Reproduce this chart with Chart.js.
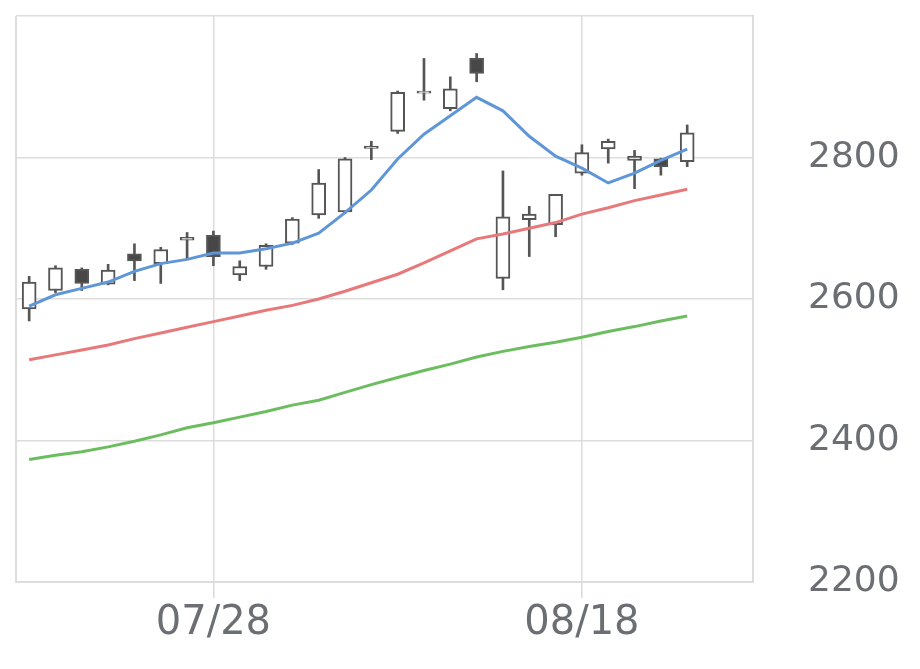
<!DOCTYPE html>
<html>
<head>
<meta charset="utf-8">
<script src="https://cdn.jsdelivr.net/npm/chart.js@4/dist/chart.umd.min.js"></script>
<style>
  html, body { margin: 0; padding: 0; background: #fff; }
  #wrap { width: 920px; height: 669px; }
</style>
</head>
<body>
<div id="wrap"><canvas id="chart"></canvas></div>
<script>
// trading days (last two slots are empty)
const dates = ["07/19", "07/20", "07/21", "07/24", "07/25", "07/26", "07/27", "07/28",
  "07/31", "08/01", "08/02", "08/03", "08/04", "08/07", "08/08", "08/09", "08/10",
  "08/14", "08/15", "08/16", "08/17", "08/18", "08/21", "08/22", "08/23", "08/24",
  "08/25", "08/28"];
const shownDates = ["07/28", "08/18"];

const openVals  = [2586, 2612, 2642, 2621, 2664, 2650, 2683, 2690, 2634, 2646, 2679, 2719, 2723,
  2813, 2837, 2891, 2869, 2940, 2629, 2712, 2705, 2778, 2812, 2796, 2798, 2794];
const highVals  = [2632, 2647, 2644, 2649, 2678, 2673, 2694, 2696, 2654, 2678, 2715, 2783, 2800,
  2823, 2894, 2940, 2914, 2947, 2781, 2731, 2748, 2818, 2826, 2810, 2799, 2846];
const lowVals   = [2569, 2609, 2612, 2620, 2626, 2622, 2657, 2647, 2626, 2642, 2677, 2714, 2721,
  2797, 2834, 2881, 2866, 2907, 2613, 2660, 2688, 2775, 2792, 2756, 2775, 2787];
const closeVals = [2624, 2644, 2622, 2641, 2654, 2670, 2687, 2660, 2646, 2676, 2713, 2764, 2798,
  2816, 2892, 2894, 2897, 2919, 2716, 2720, 2748, 2807, 2823, 2802, 2787, 2835];

// moving averages
const ma5  = [2590, 2606, 2615, 2624, 2639, 2650, 2656, 2665, 2665, 2671, 2679, 2693, 2722,
  2754, 2798, 2833, 2859, 2885, 2866, 2830, 2802, 2785, 2764, 2778, 2796, 2812];
const ma25 = [2514, 2521, 2528, 2535, 2544, 2552, 2560, 2568, 2576, 2584, 2591, 2600, 2611,
  2623, 2635, 2651, 2668, 2685, 2692, 2700, 2708, 2720, 2729, 2739, 2747, 2755];
const ma75 = [2373, 2379, 2384, 2391, 2399, 2408, 2418, 2425, 2433, 2441, 2450, 2457, 2468,
  2479, 2489, 2499, 2508, 2518, 2526, 2533, 2539, 2546, 2554, 2561, 2569, 2576];

const yTicks = [2200, 2400, 2600, 2800, 3000];

const textColor = "#6b6e72";
const gridColor = "#dddddd";
const candleLine = "#555555";
const candleFill = "#474747";

const bodies = openVals.map((o, i) => [o, closeVals[i]]);
const wicks = lowVals.map((l, i) => [l, highVals[i]]);

// left edge of the plot frame
const framePlugin = {
  id: "frame",
  afterDraw(chart) {
    const { ctx, chartArea } = chart;
    ctx.save();
    ctx.strokeStyle = gridColor;
    ctx.lineWidth = 2;
    ctx.beginPath();
    ctx.moveTo(chartArea.left, chartArea.top);
    ctx.lineTo(chartArea.left, chartArea.bottom);
    ctx.stroke();
    ctx.restore();
  }
};

new Chart(document.getElementById("chart"), {
  type: "bar",
  data: {
    labels: dates,
    datasets: [
      {
        type: "line", data: ma5, borderColor: "#5f96d8", borderWidth: 3,
        pointRadius: 0, tension: 0, order: 0
      },
      {
        type: "line", data: ma25, borderColor: "#e8797b", borderWidth: 3,
        pointRadius: 0, tension: 0, order: 0
      },
      {
        type: "line", data: ma75, borderColor: "#6cbd5f", borderWidth: 3,
        pointRadius: 0, tension: 0, order: 0
      },
      {
        data: bodies,
        grouped: false,
        barThickness: 14,
        borderWidth: 2,
        borderSkipped: false,
        borderColor: candleLine,
        backgroundColor: (c) => closeVals[c.dataIndex] < openVals[c.dataIndex] ? candleFill : "#ffffff",
        order: 1
      },
      {
        data: wicks,
        grouped: false,
        barThickness: 2,
        borderWidth: 0,
        backgroundColor: candleLine,
        order: 2
      }
    ]
  },
  options: {
    responsive: true,
    maintainAspectRatio: false,
    animation: false,
    layout: { padding: { left: 16, top: 16, right: 0, bottom: 0 } },
    plugins: {
      legend: { display: false },
      tooltip: { enabled: false }
    },
    scales: {
      x: {
        offset: true,
        grid: {
          offset: false,
          color: (c) => shownDates.includes(dates[c.index]) ? gridColor : "rgba(0,0,0,0)",
          tickColor: (c) => shownDates.includes(dates[c.index]) ? "#d3dbe8" : "rgba(0,0,0,0)",
          tickLength: 16,
          lineWidth: 1.5
        },
        border: { color: gridColor, width: 2 },
        ticks: {
          autoSkip: false,
          maxRotation: 0,
          padding: 2,
          color: textColor,
          font: { family: "DejaVu Sans", size: 40 },
          callback: (v, i) => shownDates.includes(dates[i]) ? dates[i] : ""
        },
        afterFit: (s) => { s.height = 87; s.paddingLeft = 0; s.paddingRight = 0; }
      },
      y: {
        position: "right",
        min: 2200,
        max: 3000,
        afterBuildTicks: (s) => { s.ticks = yTicks.map((v) => ({ value: v })); },
        grid: { color: gridColor, lineWidth: 1.5, drawTicks: false },
        border: { color: gridColor, width: 2 },
        ticks: {
          padding: 55,
          color: textColor,
          font: { family: "DejaVu Sans", size: 36 },
          callback: (v) => v === 3000 ? "" : v
        },
        afterFit: (s) => { s.width = 167; s.paddingTop = 0; s.paddingBottom = 0; }
      }
    }
  },
  plugins: [framePlugin]
});
</script>
</body>
</html>
